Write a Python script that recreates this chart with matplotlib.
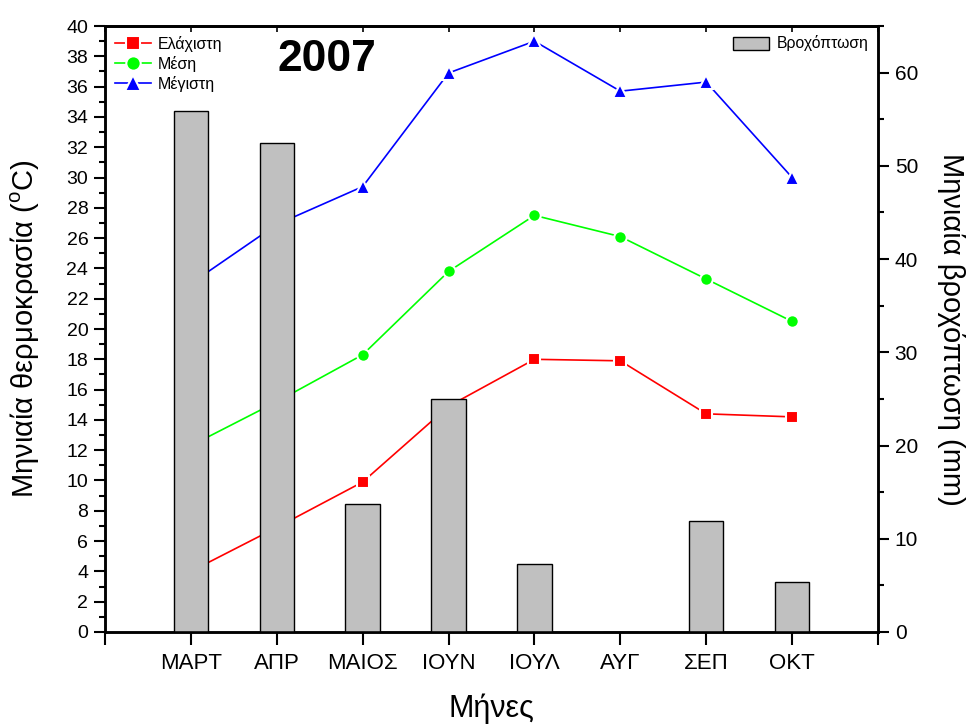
import matplotlib
matplotlib.use('Agg')
import matplotlib.pyplot as plt
from matplotlib.ticker import MultipleLocator, FixedLocator

plt.rcParams['font.family'] = ['Liberation Sans', 'DejaVu Sans']
plt.rcParams['mathtext.fontset'] = 'custom'
plt.rcParams['mathtext.rm'] = 'Liberation Sans'

# Monthly data for 2007
months = ['ΜΑΡΤ', 'ΑΠΡ', 'ΜΑΙΟΣ', 'ΙΟΥΝ', 'ΙΟΥΛ', 'ΑΥΓ', 'ΣΕΠ', 'ΟΚΤ']
t_min = [4.0, 6.9, 9.9, 14.9, 18.0, 17.9, 14.4, 14.2]
t_mean = [12.3, 15.2, 18.3, 23.8, 27.5, 26.1, 23.3, 20.5]
t_max = [23.0, 26.9, 29.4, 36.9, 39.0, 35.7, 36.3, 30.0]
rain = [55.9, 52.5, 13.7, 25.0, 7.3, 0.0, 11.9, 5.4]

x = list(range(1, len(months) + 1))

fig = plt.figure(figsize=(9.66, 7.27), dpi=100)
ax = fig.add_axes([0.1087, 0.1307, 0.8002, 0.8335])

ax.plot(x, t_min, color='#ff0000', marker='s', markersize=8.5, lw=1.2,
        markeredgecolor='white', markeredgewidth=1.5, label='Ελάχιστη')
ax.plot(x, t_mean, color='#00ff00', marker='o', markersize=9, lw=1.2,
        markeredgecolor='white', markeredgewidth=1.5, label='Μέση')
ax.plot(x, t_max, color='#0000ff', marker='^', markersize=10, lw=1.2,
        markeredgecolor='white', markeredgewidth=1.5, label='Μέγιστη')

ax.set_xlim(0, 9)
ax.set_ylim(0, 40)
ax.xaxis.set_major_locator(FixedLocator(range(0, 10)))
ax.set_xticklabels([''] + months + [''], fontsize=16)
ax.yaxis.set_major_locator(MultipleLocator(2))
ax.yaxis.set_minor_locator(MultipleLocator(1))
ax.tick_params(axis='y', which='major', direction='out', length=8, width=1.5,
               labelsize=14, pad=4)
ax.tick_params(axis='y', which='minor', direction='out', length=4, width=1.5)
ax.tick_params(axis='x', which='major', direction='out', length=9, width=1.5,
               pad=6)
for sp in ax.spines.values():
    sp.set_linewidth(1.8)

# short inward ticks along the top edge
top = ax.secondary_xaxis('top')
top.xaxis.set_major_locator(FixedLocator(range(0, 10)))
top.tick_params(direction='in', length=4, width=1.2, labeltop=False)
top.spines['top'].set_linewidth(1.8)

ax.set_xlabel('Μήνες', fontsize=22, labelpad=14)
ax.set_ylabel(r'Μηνιαία θερμοκρασία ($^{\rm o}$C)', fontsize=21, labelpad=18)

leg = ax.legend(loc='upper left', frameon=False, fontsize=11.5,
                handlelength=2.3, handletextpad=0.4, labelspacing=0.25,
                borderaxespad=0.2, markerscale=1.15)

# Rainfall bars on the secondary axis
ax2 = ax.twinx()
ax2.bar(x, rain, width=0.4, color='#c0c0c0', edgecolor='black', linewidth=1.0,
        label='Βροχόπτωση')
ax2.set_ylim(0, 65)
ax2.yaxis.set_major_locator(MultipleLocator(10))
ax2.yaxis.set_minor_locator(MultipleLocator(5))
ax2.tick_params(axis='y', which='major', direction='out', length=8, width=1.5,
                labelsize=15, pad=4)
ax2.tick_params(axis='y', which='minor', direction='out', length=4, width=1.5)
for sp in ax2.spines.values():
    sp.set_linewidth(1.8)
ax2.set_ylabel('Μηνιαία βροχόπτωση (mm)', fontsize=21, rotation=270,
               labelpad=34)
ax2.legend(loc='upper right', frameon=False, fontsize=11.3,
           handlelength=2.3, handleheight=0.9, handletextpad=0.5,
           borderaxespad=0.2)

ax.text(0.287, 0.945, '2007', transform=ax.transAxes, fontsize=32,
        fontweight='bold', ha='center', va='center')

fig.savefig('out.png', dpi=100)
